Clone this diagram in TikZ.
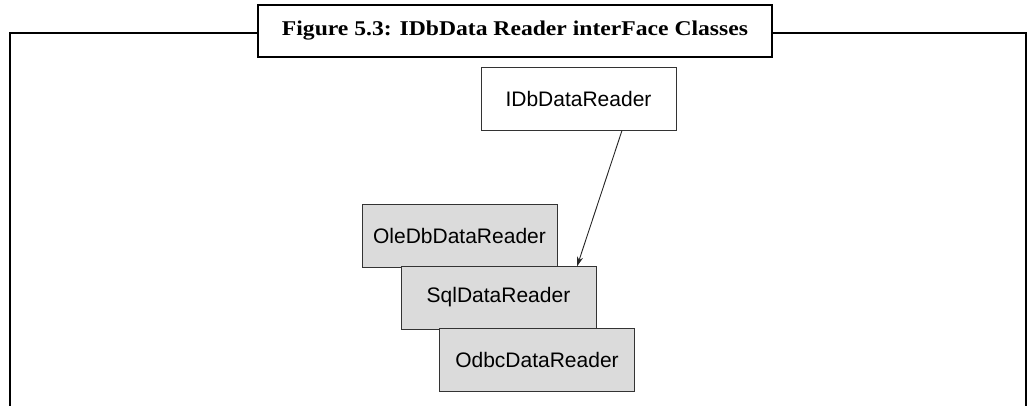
\documentclass[tikz,border=0pt]{standalone}
\usepackage{fontspec}
\setmainfont{Liberation Serif}
\newfontfamily\boxfont{Liberation Sans}
\usetikzlibrary{arrows.meta}
\tikzset{
  frameline/.style={line width=2pt, black},
  titlebox/.style={draw=black, line width=2.5pt, fill=white, minimum width=514pt, minimum height=52pt, inner sep=0pt, font=\bfseries\fontsize{21}{25}\selectfont},
  ifacebox/.style={draw=black!80, line width=1pt, fill=white, minimum width=195pt, minimum height=63pt, inner sep=0pt, font=\boxfont\fontsize{21}{25}\selectfont},
  classbox/.style={ifacebox, fill=black!14, minimum height=63pt},
  link/.style={black!85, line width=0.9pt, -{Stealth[length=10pt,width=6pt]}}
}
\begin{document}
\begin{tikzpicture}[x=1pt, y=-1pt]
\useasboundingbox (0,0) rectangle (1029,405);
% outer frame, open at the bottom
\draw[frameline] (10,406) -- (10,33) -- (1026,33) -- (1026,406);
% caption
\node[titlebox] (title) at (515,31) {\scalebox{1.125}[1]{Figure 5.3: IDbData Reader interFace Classes}};
% interface
\node[ifacebox] (idb) at (578.5,98.5) {IDbDataReader};
% implementing classes, stacked
\node[classbox] (ole) at (459.5,235.5) {OleDbDataReader};
\node[classbox] (sql) at (498.5,297.5) {SqlDataReader};
\node[classbox] (odbc) at (537,359.5) {OdbcDataReader};
\coordinate (tip) at (577,266.5);
\draw[link] (idb.south -| 622,0) -- (tip);
\end{tikzpicture}
\end{document}
